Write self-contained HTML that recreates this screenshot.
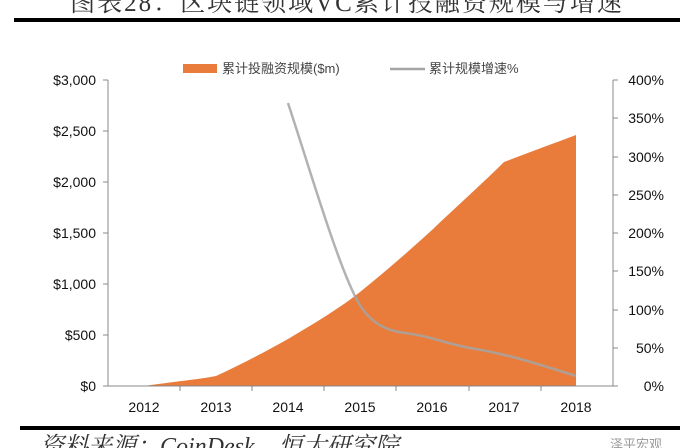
<!DOCTYPE html>
<html><head><meta charset="utf-8"><style>
html,body{margin:0;padding:0;background:#fff;width:694px;height:448px;overflow:hidden}
svg{display:block}
</style></head><body>
<svg width="694" height="448" viewBox="0 0 694 448" xmlns="http://www.w3.org/2000/svg">
<text x="347" y="11" text-anchor="middle" font-family="Liberation Serif, 'Noto Serif CJK SC', serif" font-size="25" fill="#333" letter-spacing="2">图表28：区块链领域VC累计投融资规模与增速</text>
<rect x="14" y="18" width="666" height="4" fill="#000"/>
<rect x="183" y="64" width="34" height="9" fill="#e97c3a"/>
<text x="222" y="73" font-family="Liberation Sans,'Noto Sans CJK SC',sans-serif" font-size="13" fill="#444">累计投融资规模($m)</text>
<line x1="390" y1="69" x2="425" y2="69" stroke="#a5a5a5" stroke-width="2.5"/>
<text x="429" y="73" font-family="Liberation Sans,'Noto Sans CJK SC',sans-serif" font-size="13" fill="#444">累计规模增速%</text>
<path d="M144,386 C170,382 195,380 216,376 C240,365 265,352 288,339 C315,323 340,308 360,292 C385,272 410,250 432,230 C457,206 483,183 504,162 C530,152 555,143 576,135 L576,386 Z" fill="#e97c3a"/>
<path d="M288,103 C310,170 335,255 354,294 C365,318 380,330 405,333 C430,336 440,342 470,348 C500,353 520,358 576,376" fill="none" stroke="#a5a5a5" stroke-width="2.5" opacity="0.85"/>
<g stroke="#888" stroke-width="1">
<line x1="108" y1="80" x2="108" y2="386"/>
<line x1="108" y1="386" x2="613" y2="386"/>
<line x1="613" y1="80" x2="613" y2="386"/>
<line x1="103" y1="80" x2="108" y2="80"/><line x1="103" y1="131" x2="108" y2="131"/><line x1="103" y1="182" x2="108" y2="182"/><line x1="103" y1="233" x2="108" y2="233"/><line x1="103" y1="284" x2="108" y2="284"/><line x1="103" y1="335" x2="108" y2="335"/><line x1="103" y1="386" x2="108" y2="386"/>
<line x1="613" y1="80" x2="618" y2="80"/><line x1="613" y1="118" x2="618" y2="118"/><line x1="613" y1="157" x2="618" y2="157"/><line x1="613" y1="195" x2="618" y2="195"/><line x1="613" y1="233" x2="618" y2="233"/><line x1="613" y1="271" x2="618" y2="271"/><line x1="613" y1="310" x2="618" y2="310"/><line x1="613" y1="348" x2="618" y2="348"/><line x1="613" y1="386" x2="618" y2="386"/>
<line x1="180" y1="386" x2="180" y2="391"/><line x1="252" y1="386" x2="252" y2="391"/><line x1="324" y1="386" x2="324" y2="391"/><line x1="396" y1="386" x2="396" y2="391"/><line x1="469" y1="386" x2="469" y2="391"/><line x1="541" y1="386" x2="541" y2="391"/>
</g>
<g font-family="Liberation Sans,sans-serif" font-size="14" fill="#111" text-anchor="end">
<text x="96" y="85">$3,000</text><text x="96" y="136">$2,500</text><text x="96" y="187">$2,000</text><text x="96" y="238">$1,500</text><text x="96" y="289">$1,000</text><text x="96" y="340">$500</text><text x="96" y="391">$0</text>
</g>
<g font-family="Liberation Sans,sans-serif" font-size="14" fill="#111" text-anchor="end">
<text x="664" y="85">400%</text><text x="664" y="123">350%</text><text x="664" y="162">300%</text><text x="664" y="200">250%</text><text x="664" y="238">200%</text><text x="664" y="276">150%</text><text x="664" y="315">100%</text><text x="664" y="353">50%</text><text x="664" y="391">0%</text>
</g>
<g font-family="Liberation Sans,sans-serif" font-size="14" fill="#111" text-anchor="middle">
<text x="144" y="412">2012</text><text x="216" y="412">2013</text><text x="288" y="412">2014</text><text x="360" y="412">2015</text><text x="432" y="412">2016</text><text x="504" y="412">2017</text><text x="576" y="412">2018</text>
</g>
<rect x="20" y="426" width="660" height="4" fill="#000"/>
<text x="40" y="454" font-family="Liberation Serif,'Noto Serif CJK SC',serif" font-style="italic" font-size="24" fill="#333">资料来源：CoinDesk，恒大研究院</text>
<text x="610" y="449" font-family="Liberation Sans,'Noto Sans CJK SC',sans-serif" font-size="13" fill="#999">泽平宏观</text>
</svg>
</body></html>
